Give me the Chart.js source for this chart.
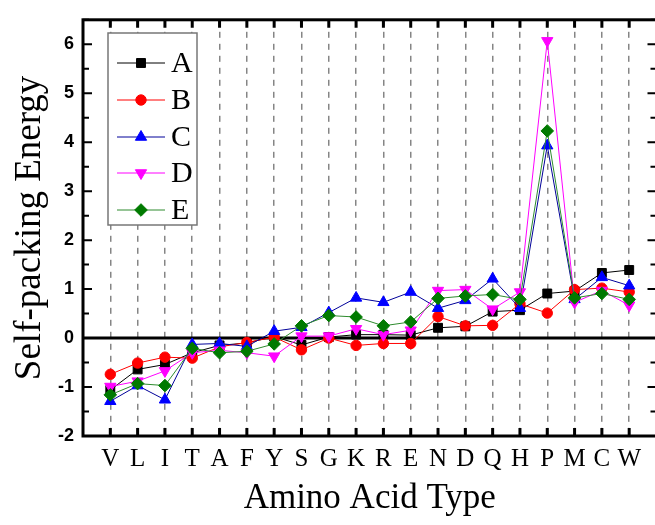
<!DOCTYPE html>
<html>
<head>
<meta charset="utf-8">
<script src="https://cdn.jsdelivr.net/npm/chart.js@4.4.0/dist/chart.umd.min.js"></script>
<style>
  html, body { margin: 0; padding: 0; background: #fff; overflow: hidden; }
  #wrap { width: 664px; height: 525px; }
</style>
</head>
<body>
<div id="wrap"><canvas id="chart" width="664" height="525"></canvas></div>
<script>
// amino acid order on the x axis
const categories = ['V','L','I','T','A','F','Y','S','G','K','R','E','N','D','Q','H','P','M','C','W'];

// self-packing energy
const seriesA = [-1.06,-0.64,-0.54,-0.30,-0.15,-0.10,0.03,-0.14,0.02,0.07,0.07,0.06,0.21,0.24,0.54,0.57,0.91,0.96,1.33,1.39];
const seriesB = [-0.74,-0.51,-0.39,-0.41,-0.18,-0.09,0.02,-0.24,0.00,-0.15,-0.11,-0.11,0.44,0.25,0.26,0.70,0.51,0.99,1.02,0.94];
const seriesC = [-1.29,-0.97,-1.26,-0.13,-0.11,-0.17,0.14,0.22,0.52,0.82,0.73,0.94,0.61,0.77,1.21,0.61,3.93,0.79,1.24,1.07];
const seriesD = [-0.99,-0.88,-0.67,-0.30,-0.25,-0.30,-0.37,0.04,0.04,0.19,0.07,0.16,0.97,0.99,0.59,0.94,6.07,0.73,0.97,0.67];
const seriesE = [-1.16,-0.93,-0.97,-0.21,-0.30,-0.27,-0.12,0.25,0.46,0.43,0.25,0.33,0.81,0.86,0.89,0.79,4.23,0.82,0.91,0.79];

const seriesNames = ['A','B','C','D','E'];
const yTicks = [-2,-1,0,1,2,3,4,5,6];

function toPoints(values) {
    return values.map((v, i) => ({ x: i, y: v }));
}

function makeSet(label, values, line, fill, style, radius, rotation, order) {
    return {
        label: label,
        data: toPoints(values),
        borderColor: line,
        backgroundColor: fill,
        pointBackgroundColor: fill,
        pointBorderColor: fill,
        pointStyle: style,
        pointRadius: radius,
        pointRotation: rotation,
        pointBorderWidth: 1,
        borderWidth: 1,
        tension: 0,
        fill: false,
        order: order
    };
}

const datasets = [
    makeSet(seriesNames[0], seriesA, '#000000', '#000000', 'rect', 6.3, 0, 5),
    makeSet(seriesNames[1], seriesB, '#ff0000', '#ff0000', 'circle', 5.2, 0, 4),
    makeSet(seriesNames[2], seriesC, '#000099', '#0000ff', 'triangle', 6.5, 0, 3),
    makeSet(seriesNames[3], seriesD, '#ff00ff', '#ff00ff', 'triangle', 6.5, 180, 2),
    makeSet(seriesNames[4], seriesE, '#2e8b2e', '#007a00', 'rectRot', 6.3, 0, 1)
];

// frame, inward ticks, zero line and the boxed legend
const framePlugin = {
    id: 'frame',
    beforeDatasetsDraw(chart) {
        const { ctx, chartArea: a, scales } = chart;
        const y0 = scales.y.getPixelForValue(0);
        ctx.save();
        ctx.strokeStyle = '#000';
        ctx.lineWidth = 3;
        ctx.beginPath();
        ctx.moveTo(a.left, y0);
        ctx.lineTo(a.right, y0);
        ctx.stroke();
        ctx.restore();
    },
    afterDraw(chart) {
        const { ctx, chartArea: a, scales } = chart;
        ctx.save();
        ctx.strokeStyle = '#000';
        ctx.lineWidth = 3;
        ctx.strokeRect(a.left, a.top, a.right - a.left, a.bottom - a.top);

        ctx.lineWidth = 2;
        ctx.beginPath();
        for (let v = -2; v <= 6.5; v += 0.5) {
            const py = scales.y.getPixelForValue(v);
            const len = Number.isInteger(v) ? 9 : 6;
            ctx.moveTo(a.left, py); ctx.lineTo(a.left + len, py);
            ctx.moveTo(a.right, py); ctx.lineTo(a.right - len, py);
        }
        ctx.stroke();

        ctx.lineWidth = 3;
        ctx.beginPath();
        categories.forEach((c, i) => {
            const px = scales.x.getPixelForValue(i);
            ctx.moveTo(px, a.bottom); ctx.lineTo(px, a.bottom - 8);
            ctx.moveTo(px, a.top); ctx.lineTo(px, a.top + 8);
        });
        ctx.stroke();

        // legend
        const box = { x: 108, y: 33, w: 89, h: 192 };
        ctx.fillStyle = '#fff';
        ctx.fillRect(box.x, box.y, box.w, box.h);
        ctx.strokeStyle = '#777';
        ctx.lineWidth = 1.5;
        ctx.strokeRect(box.x, box.y, box.w, box.h);
        const rowY = [63, 100, 137, 173, 210];
        chart.data.datasets.forEach((ds, i) => {
            const y = rowY[i];
            ctx.strokeStyle = ds.borderColor;
            ctx.lineWidth = 1;
            ctx.beginPath();
            ctx.moveTo(117, y); ctx.lineTo(165, y);
            ctx.stroke();
            ctx.fillStyle = ds.pointBackgroundColor;
            ctx.strokeStyle = ds.pointBorderColor;
            Chart.helpers.drawPoint(ctx, {
                pointStyle: ds.pointStyle,
                rotation: ds.pointRotation,
                radius: ds.pointRadius,
                borderWidth: 1
            }, 141, y);
            ctx.fillStyle = '#000';
            ctx.font = '30px "Liberation Serif", serif';
            ctx.textAlign = 'left';
            ctx.textBaseline = 'middle';
            ctx.fillText(ds.label, 171, y + 1);
        });
        ctx.restore();
    }
};

new Chart(document.getElementById('chart'), {
    type: 'line',
    data: { datasets: datasets },
    options: {
        responsive: false,
        animation: false,
        layout: { padding: { top: 10, right: 3, left: 0, bottom: 0 } },
        plugins: {
            legend: { display: false },
            tooltip: { enabled: false }
        },
        scales: {
            x: {
                type: 'linear',
                min: -1,
                max: 20,
                afterBuildTicks: scale => {
                    scale.ticks = categories.map((c, i) => ({ value: i }));
                },
                afterFit: scale => { scale.height = 89; },
                ticks: {
                    autoSkip: false,
                    maxRotation: 0,
                    padding: 8,
                    color: '#000',
                    font: { family: '"Liberation Serif", serif', size: 25 },
                    callback: v => categories[v] || ''
                },
                grid: {
                    display: true,
                    drawTicks: false,
                    color: '#858585',
                    lineWidth: 1.5
                },
                border: { display: false, dash: [6, 6] },
                title: {
                    display: true,
                    text: 'Amino Acid Type',
                    color: '#000',
                    font: { family: '"Liberation Serif", serif', size: 35 },
                    padding: { top: 0, bottom: 5 }
                }
            },
            y: {
                min: -2,
                max: 6.5,
                afterBuildTicks: scale => {
                    scale.ticks = yTicks.map(v => ({ value: v }));
                },
                afterFit: scale => { scale.width = 83; },
                ticks: {
                    padding: 9,
                    color: '#000',
                    font: { family: '"Liberation Sans", Arial, sans-serif', size: 18, weight: 'bold' }
                },
                grid: { display: false, drawTicks: false },
                border: { display: false },
                title: {
                    display: true,
                    text: 'Self-packing Energy',
                    color: '#000',
                    font: { family: '"Liberation Serif", serif', size: 37 },
                    padding: { top: 8, bottom: 0 }
                }
            }
        }
    },
    plugins: [framePlugin]
});
</script>
</body>
</html>
